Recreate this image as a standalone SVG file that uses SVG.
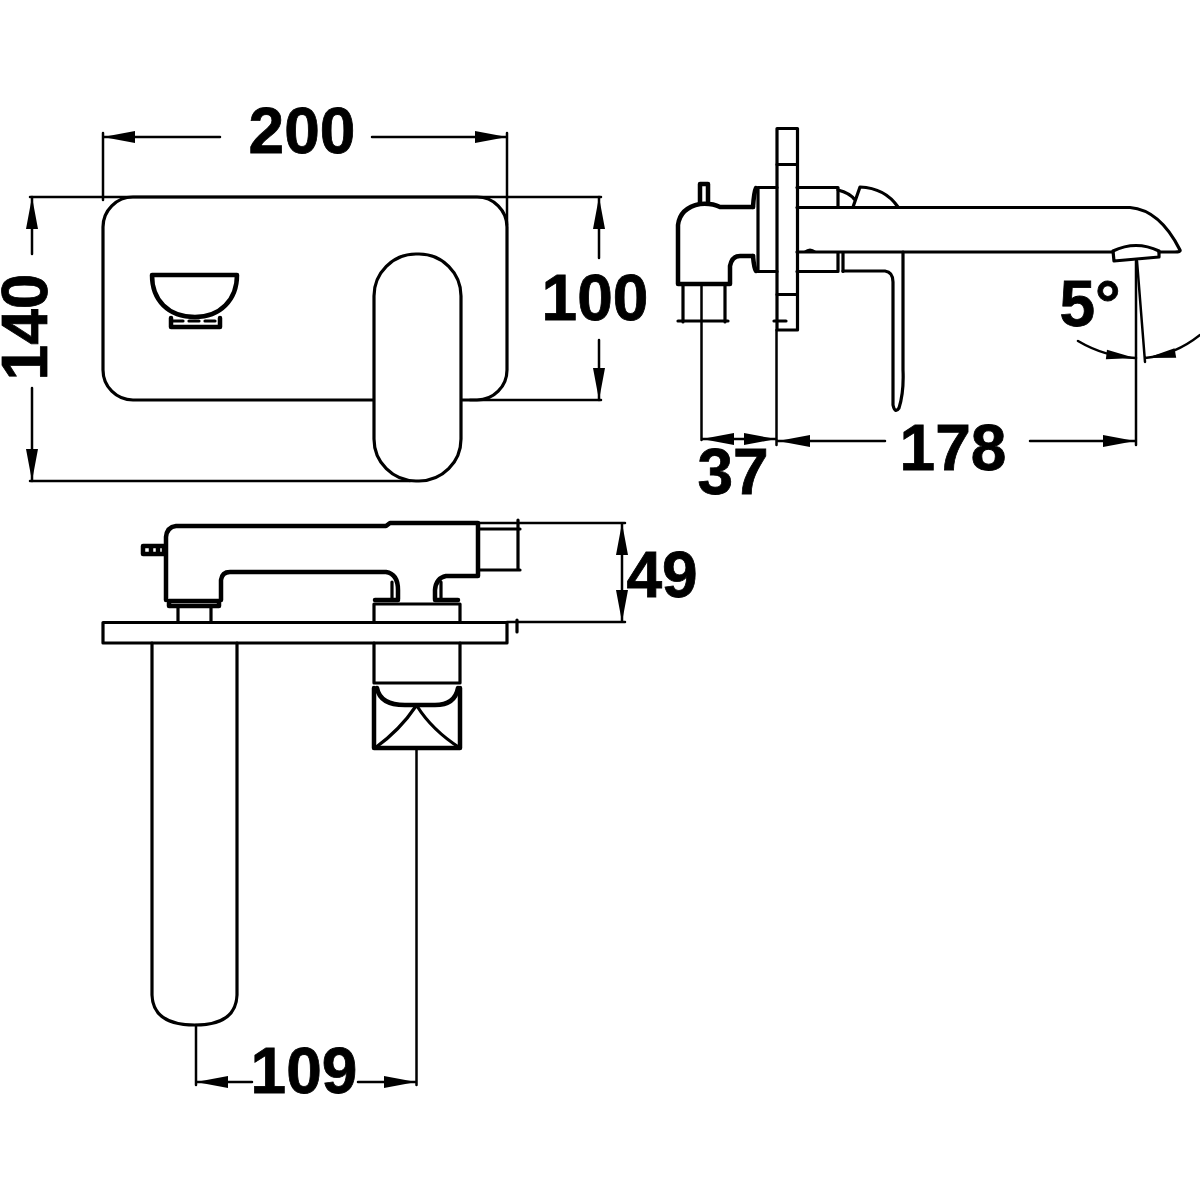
<svg xmlns="http://www.w3.org/2000/svg" width="1200" height="1200" viewBox="0 0 1200 1200">
<style>
.l{fill:none;stroke:#000;stroke-width:3.200;stroke-linejoin:round;stroke-linecap:round}
.b{stroke-width:4.500}
.t{stroke-width:2.500}
.w{fill:#fff}
.a{fill:#000;stroke:none}
text{font-family:"Liberation Sans",Arial,sans-serif;font-weight:700;font-size:64px;fill:#000;stroke:#000;stroke-width:.8px;text-anchor:middle}
</style>
<defs>
<path id="ah" class="a" d="M0 0L-32 -6L-32 6Z"/>
</defs>
<rect width="1200" height="1200" fill="#fff"/>
<g id="connectors">
<path class="l t" d="M103 133V200M507 133V225M103 137H220M372 137H507"/>
<use href="#ah" transform="translate(103 137) rotate(180)"/>
<use href="#ah" transform="translate(507 137)"/>
<path class="l t" d="M30 197H601M30 481H410M470 400H601"/>
<path class="l t" d="M32 197V254M32 388V481M599 197V258M599 340V400"/>
<use href="#ah" transform="translate(32 197) rotate(-90)"/>
<use href="#ah" transform="translate(32 481) rotate(90)"/>
<use href="#ah" transform="translate(599 197) rotate(-90)"/>
<use href="#ah" transform="translate(599 400) rotate(90)"/>
<path class="l t" d="M701.500 284V440M776.500 330V445M1136 261V445M702 439H776M778 441H885M1030 441H1135"/>
<use href="#ah" transform="translate(702 439) rotate(180)"/>
<use href="#ah" transform="translate(776 439)"/>
<use href="#ah" transform="translate(778 441) rotate(180)"/>
<use href="#ah" transform="translate(1135 441)"/>
<path class="l t" d="M1137 261L1145 362M1078 341Q1105 357 1136 358M1200 335Q1175 355 1145 358"/>
<use href="#ah" transform="translate(1135 358) rotate(7) scale(.9 .8)"/>
<use href="#ah" transform="translate(1147 358) rotate(170) scale(.9 .8)"/>
<path class="l t" d="M478 523H625M507 622H625M622 523V622"/>
<use href="#ah" transform="translate(622 523) rotate(-90)"/>
<use href="#ah" transform="translate(622 622) rotate(90)"/>
<path class="l t" d="M416.500 748V1085M196 1025V1085M196 1082H252M358 1082H416"/>
<use href="#ah" transform="translate(196 1082) rotate(180)"/>
<use href="#ah" transform="translate(416 1082)"/>
</g>
<g id="front-view">
<rect class="l" x="103" y="197" width="404" height="203" rx="30"/>
<path class="l b" d="M152 275H237C237 300 220 317 195 317C168 317 152 300 152 275Z"/>
<path class="l b" d="M171 318V327H220V318"/>
<path class="l" d="M173 321H218" stroke-dasharray="10 6"/>
<rect class="l w" x="374" y="254" width="87" height="227" rx="42"/>
</g>
<g id="side-view">
<rect class="l" x="777" y="128.500" width="20.500" height="201.500"/>
<path class="l" d="M777 164.500H797M777 294.500H797M774 321H786"/>
<path class="l" d="M777 187.500H758V271.500H777M797 187.500H838V207M797 271.500H838V253M843 253V271.500"/>
<path class="l" d="M838 190Q850 193 855 200M853 207L860 187Q885 188 898 207"/>
<path class="l b" d="M753 207Q754 192 756 188M753 256Q754 268 756 271"/>
<path class="l b" d="M678 284V225Q680 208 700 204Q712 203 720 207H753M678 284H730V266Q732 256 740 256H753"/>
<path class="l b" d="M700 203V184H708V203"/>
<path class="l" d="M683 284V322M725 284V322M678 321H728"/>
<path class="l" d="M797 207.500H1130Q1160 210 1180 250Q1181 252 1175 252H1159M797 252H1113"/>
<path class="l" d="M1113 251Q1136 240 1159 251V257L1114 261Z"/>
<path class="l" d="M843 271H885Q893 272 893 282V405Q895 414 899 408Q904 392 903 370V252"/>
<path class="a" d="M804 251Q810 246 816 251Z"/>
</g>
<g id="top-view">
<path class="l b" d="M166 600V537Q167 527 176 526H386L390 523H478V576H446Q436 578 435 590V599M221 600V580Q222 572 230 572H386Q398 574 398 590V599"/>
<path class="l" d="M392 582V598M441 582V598"/>
<path class="l b" d="M143 546H164V554H143ZM151 547V553M158 547V553"/>
<path class="l b" d="M169 601H219V606H169Z"/>
<path class="l" d="M178 607V622M211 607V622"/>
<path class="l" d="M478 529H520M478 570H520M518 523V570M518 520V533M517 620V632"/>
<path class="l" d="M103 622.500H507V643H103Z"/>
<path class="l" d="M374 622V604H460V622"/>
<path class="l b" d="M375 600H398M435 600H458"/>
<path class="l" d="M374 643V683H460V643"/>
<path class="l b" d="M374 688V748H460V688"/>
<path class="l b" d="M377 688Q380 705 405 705H435Q455 705 458 688"/>
<path class="l" d="M416 706Q400 730 375 748M417 706Q432 730 460 748"/>
<path class="l" d="M152 643V995Q153 1025 195 1025Q236 1025 237 995V643"/>
</g>
<g id="labels">
<text x="302" y="153">200</text>
<text x="595" y="320">100</text>
<text x="953" y="470">178</text>
<text x="733" y="494">37</text>
<text x="662" y="597">49</text>
<text x="304" y="1093">109</text>
<text x="1090" y="326">5°</text>
<text transform="translate(47 327) rotate(-90)">140</text>
</g>
</svg>
